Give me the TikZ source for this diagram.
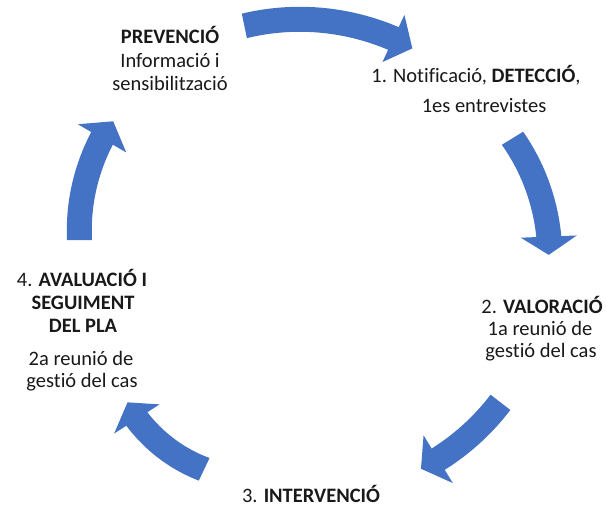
\documentclass[tikz,border=0pt]{standalone}
\usepackage{fontspec}
\setmainfont{Carlito}[Ligatures={NoCommon}]
\definecolor{arrowblue}{HTML}{4472C4}
\def\aw{12.5}
% #1 cx, #2 cy, #3 r tail, #4 r head, #5 head half-width, #6 tail angle, #7 head-base angle, #8 tip angle
\newcommand\cycarrow[8]{%
  \fill[arrowfill] plot[domain=#6:#7,samples=40]
      ({#1+(#3+(#4-#3)*(\x-#6)/(#7-#6)+\aw)*cos(\x)},{#2+(#3+(#4-#3)*(\x-#6)/(#7-#6)+\aw)*sin(\x)})
    -- ({#1+(#4+#5)*cos(#7)},{#2+(#4+#5)*sin(#7)})
    -- ({#1+#4*cos(#8)},{#2+#4*sin(#8)})
    -- ({#1+(#4-#5)*cos(#7)},{#2+(#4-#5)*sin(#7)})
    -- plot[domain=#7:#6,samples=40]
      ({#1+(#3+(#4-#3)*(\x-#6)/(#7-#6)-\aw)*cos(\x)},{#2+(#3+(#4-#3)*(\x-#6)/(#7-#6)-\aw)*sin(\x)})
    -- cycle;}
\tikzset{
  arrowfill/.style={fill=arrowblue},
  lbl/.style={font=\fontsize{20.5}{24}\selectfont, inner sep=0pt, anchor=base, text=black!90}
}
\begin{document}
\begin{tikzpicture}[x=1pt,y=-1pt]
\useasboundingbox (0,0) rectangle (606,507);
% arrows
\cycarrow{292}{256}{235}{240}{26}{258.3}{295}{300.1}
\cycarrow{339}{245}{203.7}{210}{28}{-31.6}{-2.3}{2.7}
\cycarrow{315.4}{258.8}{234.2}{235}{28}{37.8}{58.5}{63.3}
\cycarrow{268.1}{334.7}{149}{156}{27}{115.4}{147.3}{154.3}
\cycarrow{276}{240}{196.5}{201.5}{28}{180}{210.3}{216.1}
% labels
\node[lbl] (p1) at (170,43) {\textbf{PREVENCIÓ}};
\node[lbl] (p2) at (170,67) {Informació i};
\node[lbl] (p3) at (170,90) {sensibilització};
\node[lbl] (d1) at (476,82) {1. Notificació, \textbf{DETECCIÓ},};
\node[lbl] (d2) at (484,112) {1es entrevistes};
\node[lbl] (v1) at (542,313) {2. \textbf{VALORACIÓ}};
\node[lbl] (v2) at (540,335) {1a reunió de};
\node[lbl] (v3) at (541,357) {gestió del cas};
\node[lbl] (i1) at (311,502) {3. \textbf{INTERVENCIÓ}};
\node[lbl] (a1) at (82,286) {4. \textbf{AVALUACIÓ I}};
\node[lbl] (a2) at (83,309) {\textbf{SEGUIMENT}};
\node[lbl] (a3) at (83,332) {\textbf{DEL PLA}};
\node[lbl] (a4) at (81,365) {2a reunió de};
\node[lbl] (a5) at (82,387) {gestió del cas};
\end{tikzpicture}
\end{document}
